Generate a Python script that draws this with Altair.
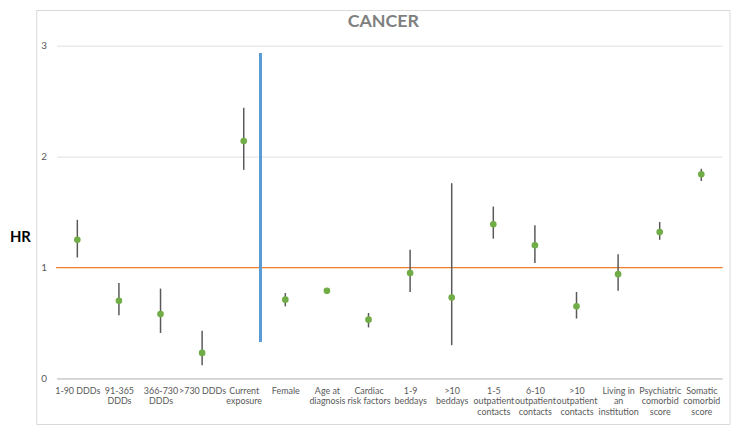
import json
import altair as alt
import pandas as pd

categories = ["1-90 DDDs", "91-365|DDDs", "366-730|DDDs", ">730 DDDs", "Current|exposure",
              "Female", "Age at|diagnosis", "Cardiac|risk factors", "1-9|beddays", ">10|beddays",
              "1-5|outpatient|contacts", "6-10|outpatient|contacts", ">10|outpatient|contacts",
              "Living in|an|institution", "Psychiatric|comorbid|score", "Somatic|comorbid|score"]
hr = [1.25, 0.70, 0.58, 0.23, 2.14, 0.71, 0.79, 0.53, 0.95, 0.73, 1.39, 1.20, 0.65, 0.94, 1.32, 1.84]
lo = [1.09, 0.57, 0.41, 0.12, 1.88, 0.65, 0.78, 0.46, 0.78, 0.30, 1.26, 1.04, 0.54, 0.79, 1.25, 1.78]
hi = [1.43, 0.86, 0.81, 0.43, 2.44, 0.77, 0.80, 0.59, 1.16, 1.76, 1.55, 1.38, 0.78, 1.12, 1.41, 1.89]
reference_hr = 1
separator_pos = 4.4
separator_lo = 0.33
separator_hi = 2.93

df = pd.DataFrame({"idx": list(range(len(categories))), "hr": hr, "lo": lo, "hi": hi})

FONT = "Lato"
label_arr = json.dumps(categories)
xscale = alt.Scale(domain=[-0.5, len(categories) - 0.5], nice=False, zero=False)
yscale = alt.Scale(domain=[0, 3], nice=False)
xaxis = alt.Axis(values=list(range(len(categories))), labelExpr=f"split({label_arr}[datum.value], '|')",
                 domain=True, domainColor="#bfbfbf", domainWidth=1, ticks=False, grid=False,
                 labelPadding=8, labelAngle=0, labelBaseline="top", labelAlign="center",
                 labelFontSize=9, labelLineHeight=10.5, labelColor="#595959", labelFont=FONT,
                 labelFlush=False, labelOverlap=False, labelBound=False, title=None)
yaxis = alt.Axis(values=[0, 1, 2, 3], format="d", domain=False, ticks=False, grid=True,
                 gridColor=alt.condition("datum.value == 1", alt.value("transparent"), alt.value("#e0e0e0")),
                 labelPadding=10, labelColor="#595959", labelFontSize=10,
                 labelFont=FONT, title="HR", titleAngle=0, titleX=-37, titleY=193,
                 titleAlign="center", titleBaseline="middle", titleFontSize=15,
                 titleFontWeight="bold", titleColor="#000000", titleFont=FONT)

frame = alt.Chart(alt.Data(values=[{"a": 1}])).mark_rect(
    fill=None, stroke="#d9d9d9", strokeWidth=1, clip=False
).encode(x=alt.value(-20), x2=alt.value(680), y=alt.value(-35.5), y2=alt.value(382.5))

base = alt.Chart(df)

bars = base.mark_rule(color="#595959", strokeWidth=1.5).encode(
    x=alt.X("idx:Q", scale=xscale, axis=xaxis),
    y=alt.Y("lo:Q", scale=yscale, axis=yaxis),
    y2="hi:Q",
)

refline = base.mark_rule(color="#ed7d31", strokeWidth=1).encode(
    y=alt.Y(datum=reference_hr),
)

sep = base.mark_rule(color="#5b9bd5", strokeWidth=2.5).encode(
    x=alt.X(datum=separator_pos),
    y=alt.Y(datum=separator_lo),
    y2=alt.Y2(datum=separator_hi),
)

points = base.mark_circle(color="#70ad47", size=45, opacity=1).encode(
    x=alt.X("idx:Q", scale=xscale, axis=xaxis),
    y=alt.Y("hr:Q", scale=yscale, axis=yaxis),
)

chart = alt.layer(frame, refline, bars, sep, points).properties(
    width=672, height=336,
    title=alt.TitleParams("CANCER", fontSize=18, fontWeight="bold", color="#7f7f7f", font=FONT,
                          anchor="middle", offset=0, dy=21, dx=-6),
    autosize=alt.AutoSizeParams(type="none"),
    padding={"left": 49, "top": 36, "right": 10, "bottom": 48},
).configure_view(stroke=None)

chart.save("out.html", embed_options={"renderer": "svg", "actions": False})
